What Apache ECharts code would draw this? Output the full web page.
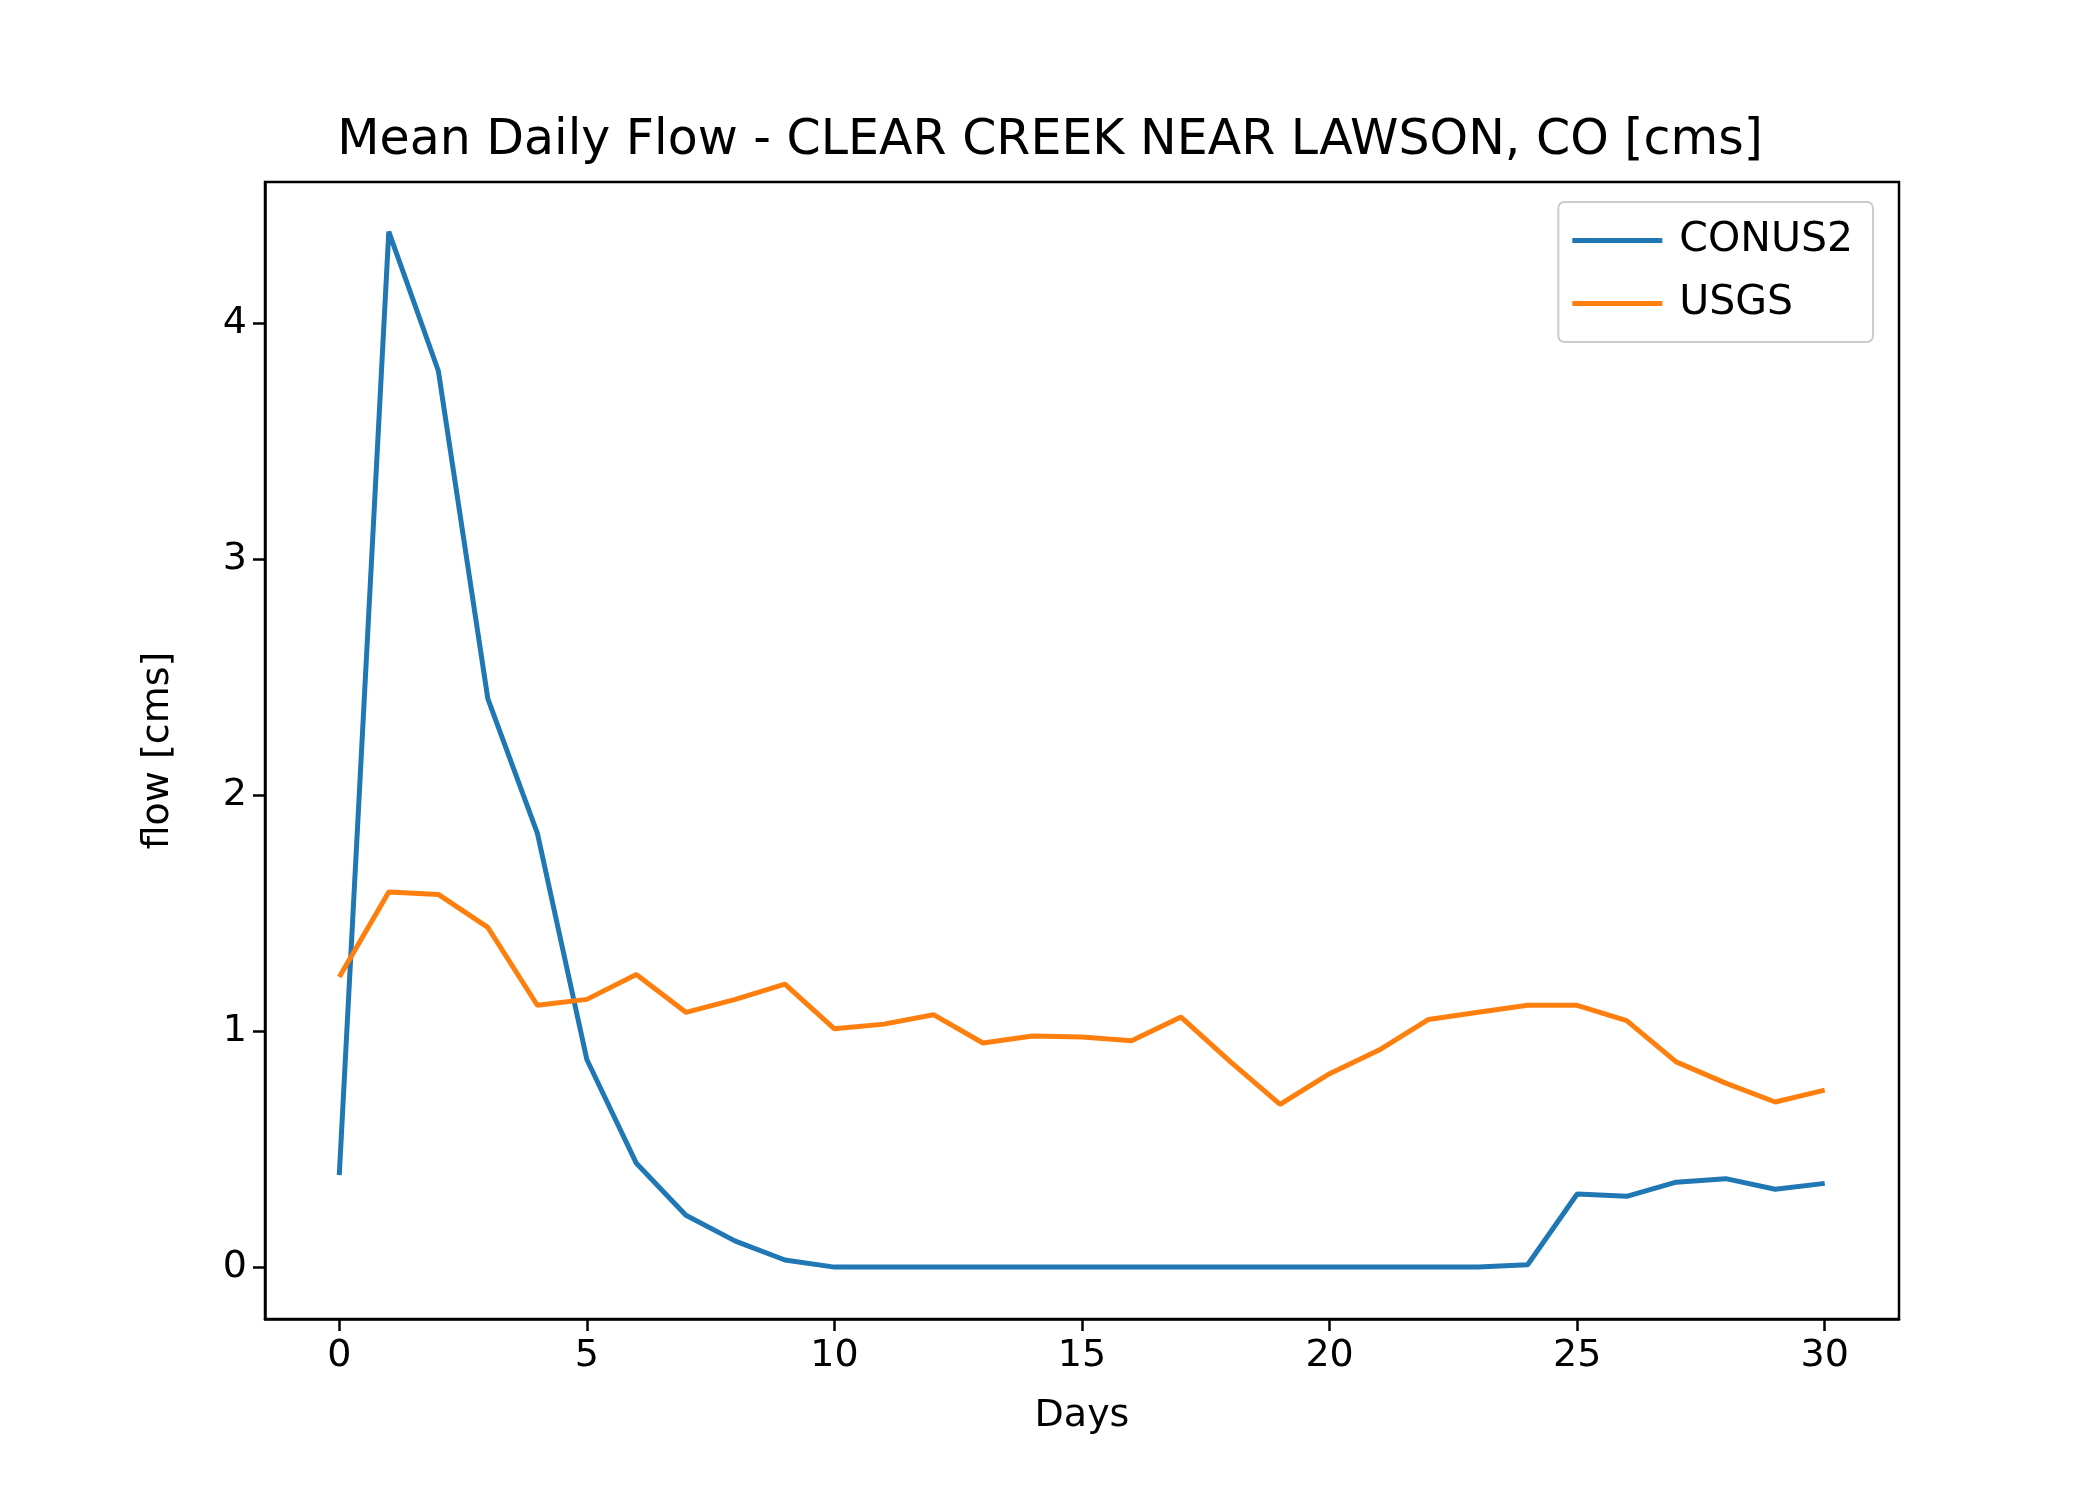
<!DOCTYPE html>
<html>
<head>
<meta charset="utf-8">
<script src="https://cdn.jsdelivr.net/npm/echarts@6/dist/echarts.min.js"></script>
<style>html,body{margin:0;padding:0;background:#fff}#main{width:2100px;height:1500px}</style>
</head>
<body>
<div id="main"></div>
<script>
var days = [];
for (var i = 0; i <= 30; i++) days.push(i);
var conus2 = [0.39, 4.39, 3.80, 2.41, 1.84, 0.88, 0.44, 0.22, 0.11, 0.03, 0.0, 0.0, 0.0, 0.0, 0.0, 0.0,
  0.0, 0.0, 0.0, 0.0, 0.0, 0.0, 0.0, 0.0, 0.01, 0.31, 0.30, 0.36, 0.375, 0.33, 0.355];
var usgs = [1.23, 1.59, 1.58, 1.44, 1.11, 1.135, 1.24, 1.08, 1.135, 1.20, 1.01, 1.03, 1.07, 0.95, 0.98, 0.975,
  0.96, 1.06, 0.87, 0.69, 0.82, 0.92, 1.05, 1.08, 1.11, 1.11, 1.045, 0.87, 0.78, 0.70, 0.75];
var xTicks = [0, 5, 10, 15, 20, 25, 30];
var yTicks = [0, 1, 2, 3, 4];

function pairs(ys) {
  return days.map(function (d, i) { return [d, ys[i]]; });
}

var chart = echarts.init(document.getElementById("main"));
var font = "DejaVu Sans";

option = {
  animation: false,
  title: {
    text: "Mean Daily Flow - CLEAR CREEK NEAR LAWSON, CO [cms]",
    left: "center",
    top: 112,
    textStyle: { fontFamily: font, fontSize: 49, fontWeight: "normal", color: "#000" }
  },
  legend: {
    right: 227,
    top: 202,
    orient: "vertical",
    itemWidth: 90,
    itemHeight: 5,
    itemGap: 22,
    padding: [18, 20, 18, 14],
    borderColor: "#ccc",
    borderWidth: 2,
    borderRadius: 6,
    icon: "rect",
    textStyle: { fontFamily: font, fontSize: 41, color: "#000", padding: [0, 0, 0, 12] },
    data: ["CONUS2", "USGS"]
  },
  grid: { left: 265, right: 201, top: 182, bottom: 181 },
  xAxis: {
    type: "value",
    name: "Days",
    nameLocation: "middle",
    nameGap: 78,
    nameTextStyle: { fontFamily: font, fontSize: 38, color: "#000" },
    min: -1.5,
    max: 31.5,
    axisLine: { onZero: false, lineStyle: { color: "#000", width: 2.5 } },
    axisTick: { length: 12, customValues: xTicks, lineStyle: { color: "#000", width: 2.5 } },
    axisLabel: { fontFamily: font, fontSize: 38, color: "#000", margin: 18, customValues: xTicks },
    splitLine: { show: false }
  },
  yAxis: {
    type: "value",
    name: "flow [cms]",
    nameLocation: "middle",
    nameGap: 88,
    nameTextStyle: { fontFamily: font, fontSize: 38, color: "#000" },
    min: -0.22,
    max: 4.6,
    axisLine: { show: true, onZero: false, lineStyle: { color: "#000", width: 2.5 } },
    axisTick: { show: true, length: 12, customValues: yTicks, lineStyle: { color: "#000", width: 2.5 } },
    axisLabel: { fontFamily: font, fontSize: 38, color: "#000", margin: 18, customValues: yTicks },
    splitLine: { show: false }
  },
  series: [
    {
      name: "CONUS2", type: "line", data: pairs(conus2), showSymbol: false,
      itemStyle: { color: "#1f77b4" }, lineStyle: { width: 5, color: "#1f77b4" }
    },
    {
      name: "USGS", type: "line", data: pairs(usgs), showSymbol: false,
      itemStyle: { color: "#ff7f0e" }, lineStyle: { width: 5, color: "#ff7f0e" }
    }
  ]
};

chart.setOption(option);
// full frame around the plot area
var tl = chart.convertToPixel({ gridIndex: 0 }, [-1.5, 4.6]);
var br = chart.convertToPixel({ gridIndex: 0 }, [31.5, -0.22]);
chart.setOption({
  graphic: [{
    type: "rect", silent: true, z: 10,
    shape: { x: tl[0], y: tl[1], width: br[0] - tl[0], height: br[1] - tl[1] },
    style: { fill: "none", stroke: "#000", lineWidth: 2.5 }
  }]
});
</script>
</body>
</html>
